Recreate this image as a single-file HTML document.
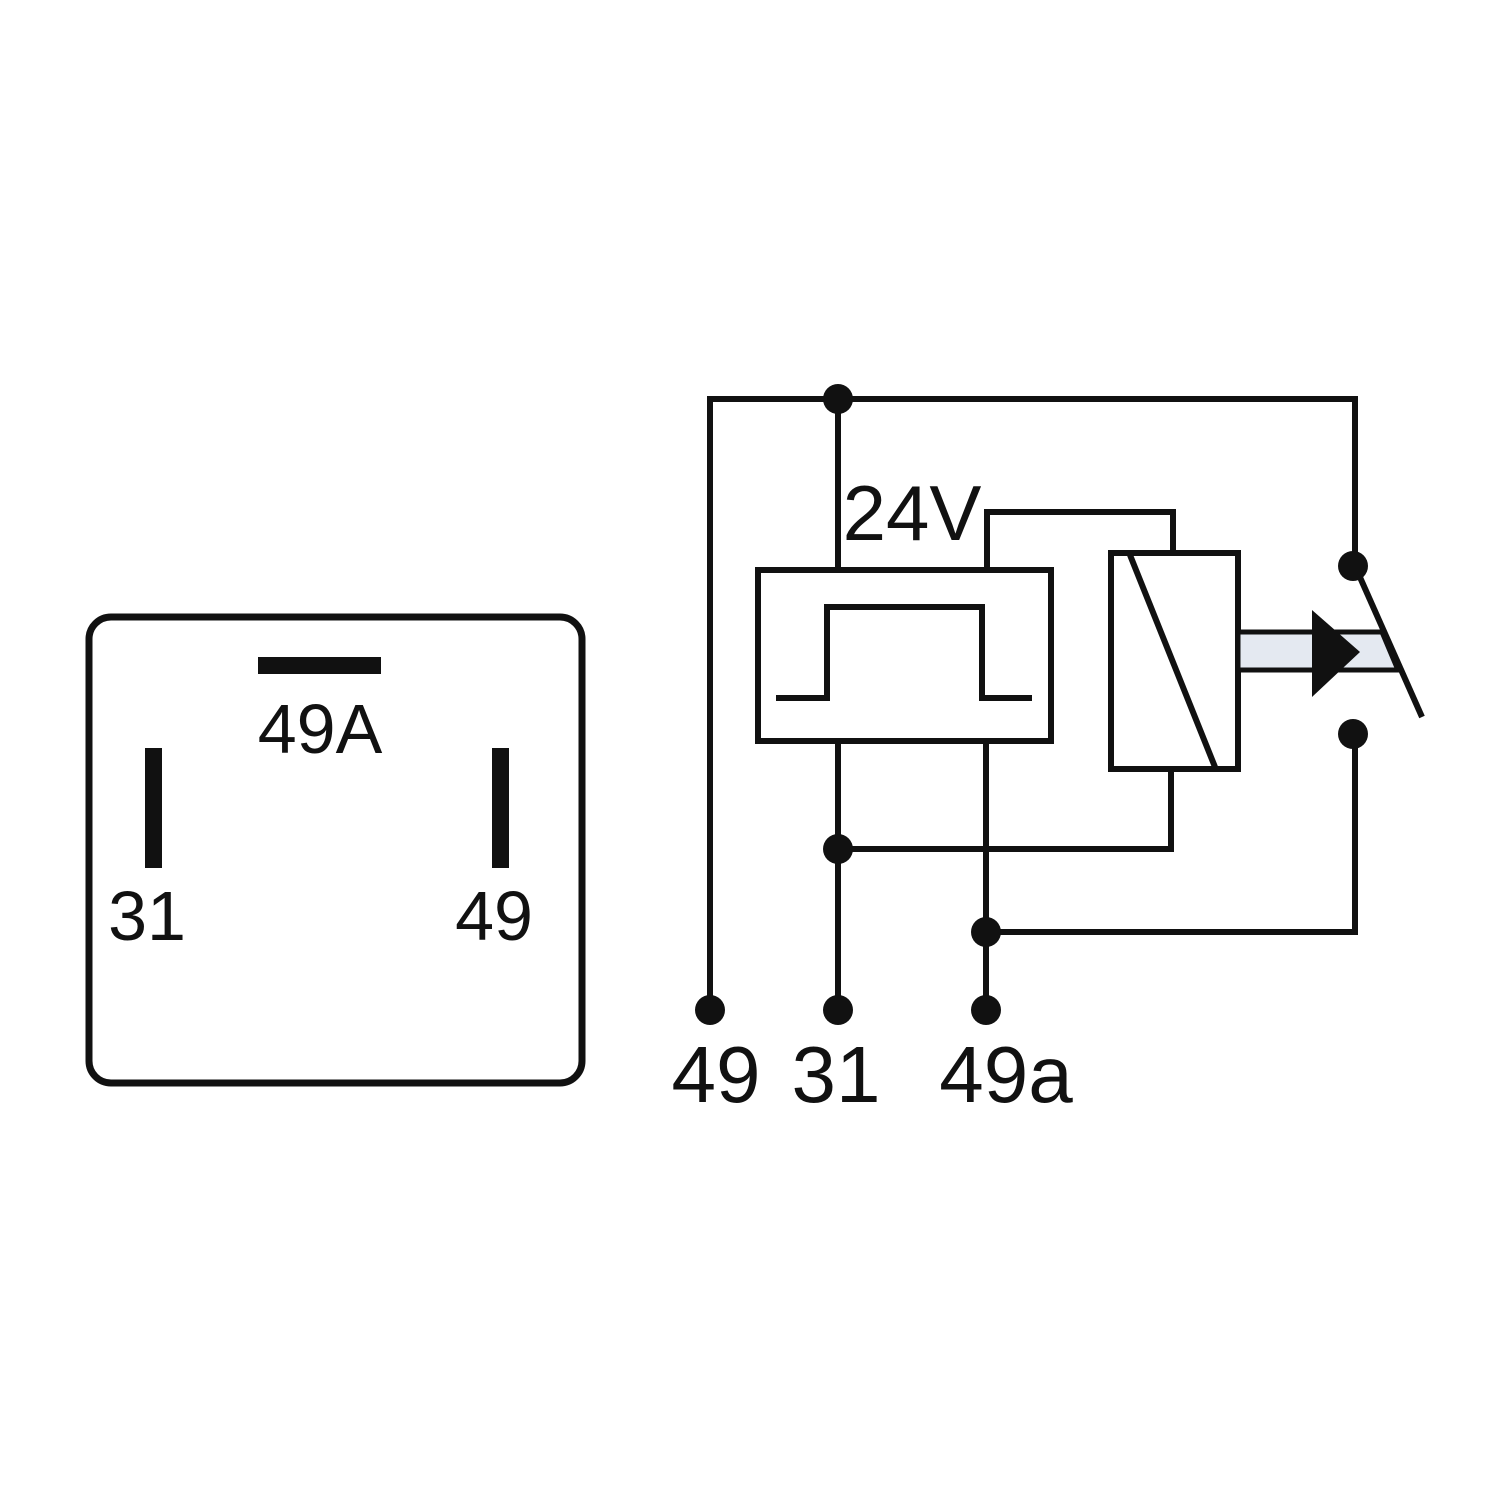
<!DOCTYPE html>
<html><head><style>body{margin:0;background:#fff}svg{display:block}</style></head><body>
<svg width="1500" height="1500" viewBox="0 0 1500 1500" xmlns="http://www.w3.org/2000/svg">
<rect width="1500" height="1500" fill="#fff"/>
<g font-family="Liberation Sans, sans-serif" fill="#111">
<rect x="89" y="617" width="493" height="466" rx="22" fill="none" stroke="#111" stroke-width="7"/>
<rect x="258" y="657" width="123" height="17"/>
<rect x="145" y="748" width="17" height="120"/>
<rect x="492" y="748" width="17" height="120"/>
<text x="320" y="753" font-size="70" text-anchor="middle">49A</text>
<text x="147" y="940" font-size="70" text-anchor="middle">31</text>
<text x="494" y="940" font-size="70" text-anchor="middle">49</text>
<text x="716" y="1102" font-size="80" text-anchor="middle" transform="scale(1,1)">49</text>
<text x="836" y="1102" font-size="80" text-anchor="middle">31</text>
<text x="1006" y="1102" font-size="80" text-anchor="middle">49a</text>
<text x="912" y="540" font-size="78" text-anchor="middle">24V</text>
</g>
<g fill="none" stroke="#111" stroke-width="6">
<polyline points="710,1010 710,399 1355,399 1355,566"/>
<line x1="838" y1="399" x2="838" y2="570"/>
<rect x="758" y="570" width="293" height="171"/>
<polyline points="776,698 827,698 827,607 982,607 982,698 1032,698"/>
<polyline points="987,570 987,512 1173,512 1173,553"/>
<rect x="1111" y="553" width="127" height="216"/>
<line x1="1130" y1="555" x2="1215" y2="767"/>
<line x1="838" y1="741" x2="838" y2="1010"/>
<polyline points="838,849 1171,849 1171,769"/>
<line x1="986" y1="741" x2="986" y2="1010"/>
<polyline points="986,932 1355,932 1355,734"/>
<line x1="1355" y1="566" x2="1422" y2="717"/>
</g>
<polygon points="1238,632 1382,632 1398,670 1238,670" fill="#e4e9f1" stroke="#111" stroke-width="5"/>
<polygon points="1312,610 1360,652 1312,697" fill="#111"/>
<g fill="#111">
<circle cx="838" cy="399" r="15"/>
<circle cx="1353" cy="566" r="15"/>
<circle cx="1353" cy="734" r="15"/>
<circle cx="838" cy="849" r="15"/>
<circle cx="986" cy="932" r="15"/>
<circle cx="710" cy="1010" r="15"/>
<circle cx="838" cy="1010" r="15"/>
<circle cx="986" cy="1010" r="15"/>
</g>
</svg>
</body></html>
